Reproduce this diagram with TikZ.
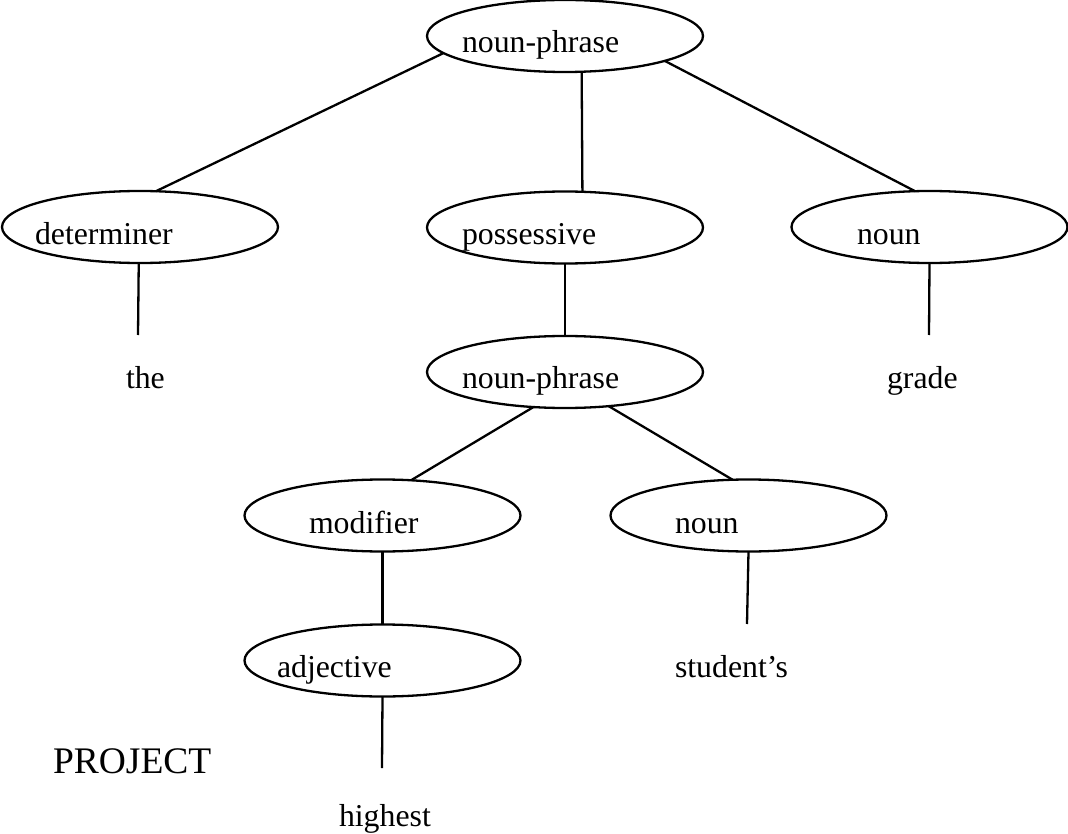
\documentclass[tikz,border=0pt]{standalone}
\usepackage{fontspec}
\setmainfont{Liberation Serif}
\usetikzlibrary{shapes.geometric}
\begin{document}
\begin{tikzpicture}[x=1pt,y=-1pt,
  ell/.style={draw, ellipse, minimum width=276pt, minimum height=72pt, inner sep=0pt, outer sep=0pt, line width=2.3pt},
  lab/.style={anchor=base west, inner sep=0pt, outer sep=0pt, font=\fontsize{31.8}{38}\selectfont},
  big/.style={anchor=base west, inner sep=0pt, outer sep=0pt, font=\fontsize{37.5}{44}\selectfont},
  conn/.style={line width=2.3pt}]
\useasboundingbox (0,0) rectangle (1068,834);
% ellipses
\node[ell] (np1)   at (565,36)    {};
\node[ell] (det)   at (140,227)   {};
\node[ell] (poss)  at (565,227.5) {};
\node[ell] (nounR) at (929.5,227) {};
\node[ell] (np2)   at (565,372)   {};
\node[ell] (mod)   at (382.5,515.5) {};
\node[ell] (nounM) at (748.5,515.5) {};
\node[ell] (adj)   at (382.5,660.5) {};
% labels in ellipses
\node[lab] (tnp1)   at (462,53)  {noun-phrase};
\node[lab] (tdet)   at (35,245)  {determiner};
\node[lab] (tposs)  at (462,245) {possessive};
\node[lab] (tnounR) at (857,245) {noun};
\node[lab] (tnp2)   at (462,388) {noun-phrase};
\node[lab] (tmod)   at (309,533) {modifier};
\node[lab] (tnounM) at (675,533) {noun};
\node[lab] (tadj)   at (277,677) {adjective};
% words
\node[lab] (the)     at (126,388) {the};
\node[lab] (grade)   at (887,388) {grade};
\node[lab] (student) at (675,677) {student’s};
\node[lab] (highest) at (339,826) {highest};
\node[big] (project) at (53,773)  {PROJECT};
% free ends
\coordinate (detend)   at (138,335);
\coordinate (nounRend) at (929,335);
\coordinate (nounMend) at (747,624);
\coordinate (adjend)   at (382,768);
% connectors
\draw[conn] (np1.188.1) -- (det.66.8);
\draw[conn] (np1.295.9) -- (poss.64.4);
\draw[conn] (np1.346.8) -- (nounR.112.5);
\draw[conn] (det.268) -- (detend);
\draw[conn] (poss.south) -- (np2.north);
\draw[conn] (nounR.south) -- (nounRend);
\draw[conn] (np2.228.4) -- (mod.51);
\draw[conn] (np2.322.5) -- (nounM.114.3);
\draw[conn] (mod.south) -- (adj.north);
\draw[conn] (nounM.south) -- (nounMend);
\draw[conn] (adj.south) -- (adjend);
\end{tikzpicture}
\end{document}
